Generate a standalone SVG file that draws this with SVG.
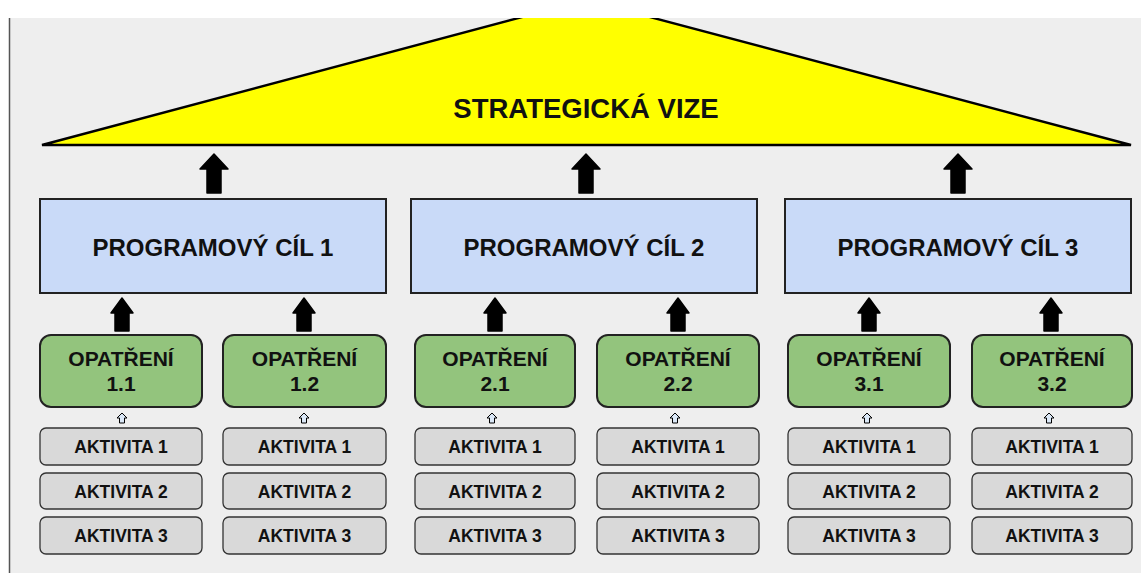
<svg xmlns="http://www.w3.org/2000/svg" xmlns:xlink="http://www.w3.org/1999/xlink" width="1145" height="573" viewBox="0 0 1145 573">
<style>
  text { font-family: "Liberation Sans", Arial, sans-serif; font-weight: bold; fill: #111; text-anchor: middle; }
  .goal { fill: #c9daf8; stroke: #222; stroke-width: 2; }
  .meas { fill: #93c47d; stroke: #222; stroke-width: 2; }
  .act { fill: #d9d9d9; stroke: #333; stroke-width: 1.3; }
  .t-goal { font-size: 24px; }
  .t-meas { font-size: 21px; }
  .t-act { font-size: 17.5px; }
  .arrow { fill: #000; stroke: #000; stroke-width: 1.5; stroke-linejoin: round; }
  .sarrow { fill: #dbe8f7; stroke: #000; stroke-width: 1; stroke-linejoin: round; }
</style>
<defs>
  <clipPath id="area"><rect x="9" y="18" width="1136" height="555"/></clipPath>
  <path id="bigArrow" d="M0,0 L14,15 L7,15 L7,39 L-7,39 L-7,15 L-14,15 Z"/>
  <path id="midArrow" d="M0,0 L11,15 L7,15 L7,33 L-7,33 L-7,15 L-11,15 Z"/>
  <path id="smallArrow" d="M0,0 L5,5 L2.5,5 L2.5,10 L-2.5,10 L-2.5,5 L-5,5 Z"/>
</defs>
<rect x="0" y="0" width="1145" height="573" fill="#ffffff"/>
<rect x="9" y="18" width="1132" height="555" fill="#eeeeee"/>
<line x1="9.5" y1="18" x2="9.5" y2="573" stroke="#555" stroke-width="1.5"/>

<g id="vision" clip-path="url(#area)">
  <polygon points="42,145 586,0 1131,145" fill="#ffff00" stroke="#000" stroke-width="2.4" stroke-linejoin="miter"/>
  <text x="586" y="118" style="font-size:27.5px">STRATEGICKÁ VIZE</text>
</g>

<g id="connectors">
  <use xlink:href="#bigArrow" class="arrow" transform="translate(214,154)"/>
  <use xlink:href="#bigArrow" class="arrow" transform="translate(586,154)"/>
  <use xlink:href="#bigArrow" class="arrow" transform="translate(958,154)"/>
  <use xlink:href="#midArrow" class="arrow" transform="translate(122,298)"/>
  <use xlink:href="#midArrow" class="arrow" transform="translate(304,298)"/>
  <use xlink:href="#midArrow" class="arrow" transform="translate(495,298)"/>
  <use xlink:href="#midArrow" class="arrow" transform="translate(678,298)"/>
  <use xlink:href="#midArrow" class="arrow" transform="translate(869,298)"/>
  <use xlink:href="#midArrow" class="arrow" transform="translate(1051,298)"/>
  <use xlink:href="#smallArrow" class="sarrow" transform="translate(122,413)"/>
  <use xlink:href="#smallArrow" class="sarrow" transform="translate(304,413)"/>
  <use xlink:href="#smallArrow" class="sarrow" transform="translate(492,413)"/>
  <use xlink:href="#smallArrow" class="sarrow" transform="translate(675,413)"/>
  <use xlink:href="#smallArrow" class="sarrow" transform="translate(867,413)"/>
  <use xlink:href="#smallArrow" class="sarrow" transform="translate(1049,413)"/>
</g>

<g id="goal1"><rect class="goal" x="40" y="199" width="346" height="94"/><text class="t-goal" x="213" y="256">PROGRAMOVÝ CÍL 1</text></g>
<g id="goal2"><rect class="goal" x="411" y="199" width="346" height="94"/><text class="t-goal" x="584" y="256">PROGRAMOVÝ CÍL 2</text></g>
<g id="goal3"><rect class="goal" x="785" y="199" width="346" height="94"/><text class="t-goal" x="958" y="256">PROGRAMOVÝ CÍL 3</text></g>

<g id="m11"><rect class="meas" x="40" y="335" width="162" height="72" rx="11"/><text class="t-meas" x="121" y="366">OPATŘENÍ</text><text class="t-meas" x="121" y="391">1.1</text></g>
<g id="m12"><rect class="meas" x="223" y="335" width="163" height="72" rx="11"/><text class="t-meas" x="304.5" y="366">OPATŘENÍ</text><text class="t-meas" x="304.5" y="391">1.2</text></g>
<g id="m21"><rect class="meas" x="415" y="335" width="160" height="72" rx="11"/><text class="t-meas" x="495" y="366">OPATŘENÍ</text><text class="t-meas" x="495" y="391">2.1</text></g>
<g id="m22"><rect class="meas" x="597" y="335" width="162" height="72" rx="11"/><text class="t-meas" x="678" y="366">OPATŘENÍ</text><text class="t-meas" x="678" y="391">2.2</text></g>
<g id="m31"><rect class="meas" x="788" y="335" width="162" height="72" rx="11"/><text class="t-meas" x="869" y="366">OPATŘENÍ</text><text class="t-meas" x="869" y="391">3.1</text></g>
<g id="m32"><rect class="meas" x="972" y="335" width="160" height="72" rx="11"/><text class="t-meas" x="1052" y="366">OPATŘENÍ</text><text class="t-meas" x="1052" y="391">3.2</text></g>

<g id="a11-1"><rect class="act" x="40" y="428" width="162" height="37" rx="6"/><text class="t-act" x="121" y="453">AKTIVITA 1</text></g>
<g id="a11-2"><rect class="act" x="40" y="473" width="162" height="36" rx="6"/><text class="t-act" x="121" y="497.5">AKTIVITA 2</text></g>
<g id="a11-3"><rect class="act" x="40" y="517" width="162" height="37" rx="6"/><text class="t-act" x="121" y="542">AKTIVITA 3</text></g>

<g id="a12-1"><rect class="act" x="223" y="428" width="163" height="37" rx="6"/><text class="t-act" x="304.5" y="453">AKTIVITA 1</text></g>
<g id="a12-2"><rect class="act" x="223" y="473" width="163" height="36" rx="6"/><text class="t-act" x="304.5" y="497.5">AKTIVITA 2</text></g>
<g id="a12-3"><rect class="act" x="223" y="517" width="163" height="37" rx="6"/><text class="t-act" x="304.5" y="542">AKTIVITA 3</text></g>

<g id="a21-1"><rect class="act" x="415" y="428" width="160" height="37" rx="6"/><text class="t-act" x="495" y="453">AKTIVITA 1</text></g>
<g id="a21-2"><rect class="act" x="415" y="473" width="160" height="36" rx="6"/><text class="t-act" x="495" y="497.5">AKTIVITA 2</text></g>
<g id="a21-3"><rect class="act" x="415" y="517" width="160" height="37" rx="6"/><text class="t-act" x="495" y="542">AKTIVITA 3</text></g>

<g id="a22-1"><rect class="act" x="597" y="428" width="162" height="37" rx="6"/><text class="t-act" x="678" y="453">AKTIVITA 1</text></g>
<g id="a22-2"><rect class="act" x="597" y="473" width="162" height="36" rx="6"/><text class="t-act" x="678" y="497.5">AKTIVITA 2</text></g>
<g id="a22-3"><rect class="act" x="597" y="517" width="162" height="37" rx="6"/><text class="t-act" x="678" y="542">AKTIVITA 3</text></g>

<g id="a31-1"><rect class="act" x="788" y="428" width="162" height="37" rx="6"/><text class="t-act" x="869" y="453">AKTIVITA 1</text></g>
<g id="a31-2"><rect class="act" x="788" y="473" width="162" height="36" rx="6"/><text class="t-act" x="869" y="497.5">AKTIVITA 2</text></g>
<g id="a31-3"><rect class="act" x="788" y="517" width="162" height="37" rx="6"/><text class="t-act" x="869" y="542">AKTIVITA 3</text></g>

<g id="a32-1"><rect class="act" x="972" y="428" width="160" height="37" rx="6"/><text class="t-act" x="1052" y="453">AKTIVITA 1</text></g>
<g id="a32-2"><rect class="act" x="972" y="473" width="160" height="36" rx="6"/><text class="t-act" x="1052" y="497.5">AKTIVITA 2</text></g>
<g id="a32-3"><rect class="act" x="972" y="517" width="160" height="37" rx="6"/><text class="t-act" x="1052" y="542">AKTIVITA 3</text></g>
</svg>
